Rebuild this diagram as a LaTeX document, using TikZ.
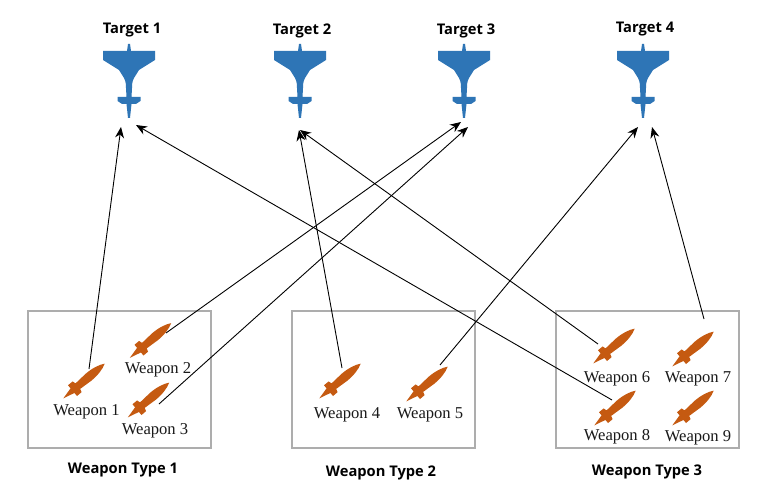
\documentclass[tikz,border=0pt]{standalone}
\usepackage{fontspec}
\setmainfont{Liberation Serif}
\newfontfamily\boldsans{Open Sans}
\usetikzlibrary{arrows.meta}
\definecolor{planeblue}{HTML}{2E75B6}
\definecolor{missile}{HTML}{C55A11}
\tikzset{
  x=1pt,y=-1pt,
  group/.style={draw=black!32,line width=1.2pt},
  wlabel/.style={font=\fontsize{16.6}{16.6}\selectfont,inner sep=0pt,text=black!90},
  tlabel/.style={font=\boldsans\bfseries\fontsize{14.7}{14.7}\selectfont,inner sep=0pt},
  link/.style={draw=black,line width=0.9pt,-{Stealth[length=11pt,width=9pt]}},
  target/.pic={
    \fill[planeblue] (-1,-8) -- (1,-8) -- (2,-1) -- (26,-1) -- (26,8)
      -- (10,18) -- (5,26) .. controls (3,30) and (3,33) .. (3,36) -- (2.5,45) -- (11.5,45) -- (11.5,49) -- (7,52) -- (2.5,52)
      -- (1,66) -- (-1,66) -- (-2.5,52) -- (-7,52) -- (-11.5,49) -- (-11.5,45) -- (-2.5,45) -- (-3,36)
      .. controls (-3,33) and (-3,30) .. (-5,26) -- (-10,18) -- (-26,8) -- (-26,-1) -- (-2,-1) -- cycle;
  },
  rocket/.pic={
    \fill[missile] (27,0) .. controls (22,3) and (14,4.5) .. (6,4.5) -- (-8,3.6)
      -- (-9,7) -- (-15,7) -- (-15,3) -- (-27,0) -- (-15,-3) -- (-15,-7) -- (-9,-7) -- (-8,-3.6)
      -- (6,-4.5) .. controls (14,-4.5) and (22,-3) .. (27,0) -- cycle;
  }
}
\begin{document}
\begin{tikzpicture}
\useasboundingbox (0,0) rectangle (769,500);
\fill[white] (0,0) rectangle (769,500);
% groups
\draw[group] (28,311) rectangle (211,448);
\draw[group] (292,311) rectangle (475,448);
\draw[group] (556,311) rectangle (739,448);
% targets
\pic at (129,52) {target};
\pic at (300,52) {target};
\pic at (464,52) {target};
\pic at (643,52) {target};
\node[tlabel] (t1) at (132,30.5) {Target 1};
\node[tlabel] (t2) at (302,30.5) {Target 2};
\node[tlabel] (t3) at (466,30.5) {Target 3};
\node[tlabel] (t4) at (645,29.5) {Target 4};
% weapons
\foreach \p in {(84,381),(150.5,340.5),(148.5,400),(340,381),(427,384),(614,346),(693,349),(615,408),(693,408)}
  \pic[rotate=40] at \p {rocket};
\node[wlabel] (w1) at (86.5,412) {Weapon 1};
\node[wlabel] (w2) at (158,370) {Weapon 2};
\node[wlabel] (w3) at (155,431) {Weapon 3};
\node[wlabel] (w4) at (347,415) {Weapon 4};
\node[wlabel] (w5) at (430,415) {Weapon 5};
\node[wlabel] (w6) at (617,379) {Weapon 6};
\node[wlabel] (w7) at (698,379) {Weapon 7};
\node[wlabel] (w8) at (617,437) {Weapon 8};
\node[wlabel] (w9) at (698,438) {Weapon 9};
\node[tlabel] (g1) at (123,470.5) {Weapon Type 1};
\node[tlabel] (g2) at (381,472.5) {Weapon Type 2};
\node[tlabel] (g3) at (647,471.5) {Weapon Type 3};
% connector ends
\coordinate (s1) at (89,369);
\coordinate (s2) at (166,333);
\coordinate (s3) at (159,404);
\coordinate (s4) at (342,368);
\coordinate (s5) at (440,365);
\coordinate (s6) at (598,344);
\coordinate (s7) at (704,319);
\coordinate (s8) at (612,400);
\coordinate (e1) at (121,127);
\coordinate (e2) at (461,122);
\coordinate (e3) at (468,127);
\coordinate (e4) at (299,130);
\coordinate (e5) at (638,127);
\coordinate (e6) at (300,130);
\coordinate (e7) at (652,127);
\coordinate (e8) at (136,125);
\foreach \i in {1,...,8} \draw[link] (s\i) -- (e\i);
\end{tikzpicture}
\end{document}
